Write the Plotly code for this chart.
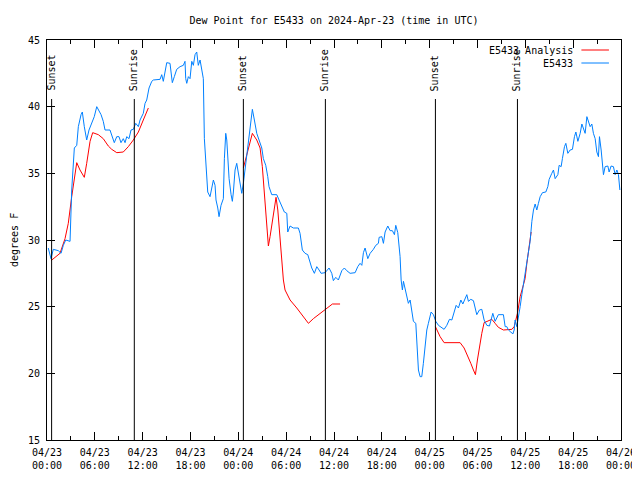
import pandas as pd
import plotly.graph_objects as go

BASE = "2024-04-23 00:00"

# Observations (E5433): hours since 2024-04-23 00:00 UTC, dew point (F)
obs_hours = [0.16, 0.50, 0.79, 1.42, 1.76, 2.05, 2.35, 2.89, 3.10, 3.43, 3.73, 3.93, 4.27, 4.43, 4.68, 4.98,
             5.27, 5.61, 5.93, 6.24, 6.44, 6.78, 7.06, 7.28, 7.90, 8.12, 8.44, 8.75, 9.03, 9.28, 9.57, 9.79,
             10.00, 10.29, 10.54, 10.83, 11.13, 11.46, 11.67, 12.08, 12.30, 12.51, 12.71, 12.80, 13.14, 13.34,
             14.18, 14.39, 14.59, 14.81, 15.02, 15.43, 15.56, 15.72, 15.97, 16.27, 16.69, 17.10, 17.31, 17.40,
             17.53, 17.73, 17.94, 18.16, 18.36, 18.57, 18.78, 18.98, 19.20, 19.41, 19.61, 19.74, 19.91, 20.04,
             20.16, 20.45, 20.66, 20.87, 21.08, 21.20, 21.42, 21.58, 21.83, 22.12, 22.25, 22.42, 22.55, 22.67,
             22.84, 23.09, 23.25, 23.38, 23.59, 23.80, 24.00, 24.22, 24.43, 24.63, 24.84, 25.06, 25.35, 25.60,
             25.76, 26.01, 26.31, 26.60, 26.94, 27.14, 27.44, 27.69, 27.85, 28.19, 28.82, 29.11, 29.45, 29.77,
             30.08, 30.20, 30.49, 30.90, 31.53, 31.74, 32.03, 32.37, 32.71, 33.00, 33.21, 33.54, 33.84, 34.13,
             34.38, 34.88, 35.38, 35.72, 35.92, 36.22, 36.55, 36.98, 37.30, 37.60, 38.02, 38.65, 38.98, 39.27,
             39.49, 39.69, 39.90, 40.24, 40.53, 40.94, 41.24, 41.57, 41.66, 42.00, 42.20, 42.41, 42.75, 43.04,
             43.32, 43.58, 43.75, 44.00, 44.17, 44.29, 44.42, 44.58, 44.71, 44.92, 45.13, 45.33, 45.55, 45.76,
             45.96, 46.26, 46.39, 46.59, 46.80, 47.01, 47.21, 47.43, 47.64, 47.84, 48.18, 48.47, 48.77, 49.10,
             49.52, 49.81, 50.15, 50.48, 50.78, 51.07, 51.32, 51.61, 51.91, 52.16, 52.45, 52.66, 52.86, 53.16,
             53.49, 53.70, 53.91, 54.24, 54.54, 54.83, 55.17, 55.50, 55.67, 55.92, 56.21, 56.62, 57.25, 57.47,
             57.68, 57.88, 58.18, 58.43, 58.60, 58.72, 58.93, 59.13, 59.35, 59.56, 59.85, 60.19, 60.39, 60.60,
             60.82, 61.02, 61.23, 61.44, 61.64, 61.86, 62.15, 62.57, 62.82, 62.99, 63.32, 63.53, 63.74, 64.08,
             64.24, 64.49, 64.65, 64.91, 65.08, 65.33, 65.62, 65.91, 66.16, 66.34, 66.59, 66.88, 67.09, 67.29,
             67.50, 67.72, 67.92, 68.13, 68.34, 68.54, 68.76, 68.97, 69.17, 69.30, 69.51, 69.67, 69.80, 70.01,
             70.35, 70.51, 70.76, 71.05, 71.27, 71.48, 71.68, 71.86]
obs_values = [29.4, 28.6, 29.3, 29.2, 29.0, 29.6, 30.0, 29.9, 33.75, 36.9, 37.1, 38.5, 39.4, 39.6, 38.5, 37.5,
              38.25, 38.75, 39.25, 40.0, 39.75, 39.4, 38.9, 38.25, 38.25, 37.9, 37.3, 37.75, 37.75, 37.3, 37.6, 37.3,
              37.75, 37.6, 38.25, 38.3, 38.75, 38.5, 39.0, 39.5, 40.25, 40.5, 41.25, 41.4, 41.9, 42.0,
              42.05, 42.4, 41.9, 42.6, 43.3, 43.25, 42.5, 41.8, 42.25, 42.8, 43.0, 43.1, 43.4, 42.1,
              41.75, 42.25, 42.1, 43.4, 43.1, 43.9, 44.1, 43.1, 43.5, 42.75, 42.1, 37.6, 35.6, 34.4,
              33.6, 33.25, 34.0, 34.5, 34.1, 33.0, 32.4, 31.75, 32.6, 33.1, 36.1, 38.0, 37.5, 36.25,
              34.6, 33.4, 32.9, 33.6, 35.25, 35.75, 35.0, 34.0, 33.5, 34.25, 35.25, 36.25, 37.5, 39.0,
              39.8, 39.0, 38.0, 37.5, 36.9, 36.1, 35.6, 34.75, 34.0, 33.4, 33.4, 33.0, 32.5, 32.1,
              32.0, 30.6, 31.05, 30.9, 30.9, 30.5, 29.25, 29.0, 28.9, 28.25, 27.9, 27.5, 28.0, 27.75,
              27.5, 27.55, 27.9, 27.5, 26.95, 27.2, 27.0, 27.7, 27.9, 27.7, 27.5, 27.55, 28.0, 28.25,
              28.1, 29.05, 29.4, 28.6, 29.0, 29.3, 29.6, 29.75, 30.2, 30.25, 29.75, 30.6, 31.05, 30.7,
              30.7, 30.4, 31.1, 30.55, 29.75, 28.75, 27.0, 26.25, 26.9, 26.25, 25.6, 25.25, 25.5, 24.6,
              23.9, 23.75, 22.0, 20.25, 19.75, 19.75, 20.75, 22.25, 23.25, 23.75, 24.6, 24.4, 23.9, 23.6,
              23.45, 23.3, 23.6, 24.05, 24.0, 24.5, 25.1, 24.9, 25.5, 25.2, 25.6, 25.9, 25.4, 25.55,
              25.45, 25.0, 24.4, 24.75, 24.8, 24.0, 23.6, 23.55, 23.9, 24.5, 23.9, 24.4, 24.4, 23.5,
              23.5, 23.25, 23.1, 22.95, 23.25, 24.0, 23.5, 24.1, 25.0, 25.9, 27.0, 28.25, 29.25, 29.9,
              31.4, 32.25, 32.7, 32.25, 32.75, 33.25, 33.55, 33.6, 34.0, 34.55, 35.0, 35.25, 34.6, 34.9,
              35.6, 35.5, 36.1, 37.0, 37.25, 36.5, 36.75, 36.8, 37.75, 38.1, 37.4, 38.0, 38.7, 38.4,
              38.0, 39.25, 38.95, 38.5, 38.7, 38.0, 37.6, 36.6, 36.25, 37.75, 36.75, 35.5, 34.9, 35.5,
              35.55, 35.1, 35.55, 35.5, 34.9, 35.25, 34.9, 33.75]

# Analysis (E5433 Analysis): three nightly segments
ana1_hours = [0.50, 1.63, 2.26, 2.67, 3.10, 3.43, 3.73, 4.14, 4.68, 4.98, 5.40, 5.73, 6.44, 7.06, 7.69, 8.12,
              8.75, 9.57, 10.20, 10.83, 11.46, 12.08, 12.71]
ana1_values = [28.45, 29.0, 30.1, 31.25, 33.25, 34.5, 35.8, 35.25, 34.7, 35.75, 37.4, 38.05, 37.9, 37.6, 37.05, 36.8,
               36.55, 36.6, 37.0, 37.5, 38.1, 39.0, 39.9]
ana2_hours = [24.63, 24.84, 25.26, 25.76, 26.31, 26.73, 27.01, 27.35, 27.57, 27.77, 27.98, 28.19, 28.52, 28.73,
              28.95, 29.23, 29.45, 29.65, 29.86, 30.49, 31.33, 32.16, 32.79, 33.41, 34.25, 35.09, 35.80, 36.76]
ana2_values = [35.4, 35.9, 37.0, 38.0, 37.5, 36.9, 35.5, 33.0, 31.0, 29.55, 30.25, 31.1, 32.5, 33.2,
               32.25, 30.0, 28.5, 27.0, 26.25, 25.5, 24.9, 24.25, 23.75, 24.1, 24.5, 24.9, 25.2, 25.2]
ana3_hours = [48.72, 49.31, 49.81, 51.82, 52.32, 52.73, 53.16, 53.49, 53.74, 53.99, 54.24, 54.54, 54.83, 55.37,
              55.80, 56.21, 56.62, 57.25, 57.88, 58.31, 58.60, 59.01, 59.35, 59.69, 59.97, 60.19, 60.73]
ana3_values = [23.5, 22.75, 22.3, 22.3, 21.9, 21.4, 20.75, 20.25, 19.9, 21.0, 22.0, 23.0, 23.8, 23.95,
               24.05, 23.75, 23.45, 23.25, 23.25, 23.3, 23.5, 24.5, 25.75, 26.5, 27.1, 28.25, 30.6]

# Sun events (hours since base)
sun_labels = ["Sunset", "Sunrise", "Sunset", "Sunrise", "Sunset", "Sunrise"]
sun_hours = [0.58, 10.95, 24.63, 34.92, 48.72, 59.01]

# Axis ticks
xtick_hours = [0, 6, 12, 18, 24, 30, 36, 42, 48, 54, 60, 66, 72]
xtick_text = ["04/23<br>00:00", "04/23<br>06:00", "04/23<br>12:00", "04/23<br>18:00",
              "04/24<br>00:00", "04/24<br>06:00", "04/24<br>12:00", "04/24<br>18:00",
              "04/25<br>00:00", "04/25<br>06:00", "04/25<br>12:00", "04/25<br>18:00",
              "04/26<br>00:00"]
ytick_vals = [15, 20, 25, 30, 35, 40, 45]

RED = "#ff0000"
BLUE = "#0080ff"
FONT = "DejaVu Sans Mono"

base = pd.Timestamp(BASE)


def to_t(hours):
    return [base + pd.Timedelta(hours=h) for h in hours]


fig = go.Figure()
ana_x = to_t(ana1_hours) + [None] + to_t(ana2_hours) + [None] + to_t(ana3_hours)
ana_y = ana1_values + [None] + ana2_values + [None] + ana3_values
fig.add_trace(go.Scatter(x=ana_x, y=ana_y, mode="lines", name="E5433 Analysis",
                         line=dict(color=RED, width=1), connectgaps=False))
fig.add_trace(go.Scatter(x=to_t(obs_hours), y=obs_values, mode="lines", name="E5433",
                         line=dict(color=BLUE, width=1)))

# Sun lines and labels
for lab, h in zip(sun_labels, sun_hours):
    t = base + pd.Timedelta(hours=h)
    fig.add_shape(type="line", xref="x", yref="paper", x0=t, x1=t, y0=0, y1=0.8525,
                  line=dict(color="black", width=1))
    fig.add_annotation(x=t, xref="x", y=0.8675, yref="paper", text=lab, textangle=-90,
                       showarrow=False, xanchor="center", yanchor="bottom",
                       font=dict(family=FONT, size=10, color="black"))

# Manual legend (text right-aligned, sample on right, as in the reference)
leg_items = [("E5433 Analysis", RED, 0.975), ("E5433", BLUE, 0.9425)]
for name, col, yy in leg_items:
    fig.add_annotation(x=0.92, xref="paper", y=yy, yref="paper", text=name, showarrow=False,
                       xanchor="right", yanchor="middle", font=dict(family=FONT, size=10, color="black"))
    fig.add_shape(type="line", xref="paper", yref="paper", x0=0.931, x1=0.979, y0=yy, y1=yy,
                  line=dict(color=col, width=1))

# y-axis title
fig.add_annotation(x=0, xref="paper", xshift=-33, y=0.5, yref="paper", text="degrees F",
                   textangle=-90, showarrow=False, xanchor="center", yanchor="middle",
                   font=dict(family=FONT, size=10, color="black"))

fig.update_layout(
    width=640, height=480,
    margin=dict(l=39, r=27, t=32, b=48, autoexpand=False),
    paper_bgcolor="white", plot_bgcolor="white",
    showlegend=False,
    font=dict(family=FONT, size=10, color="black"),
    title=dict(text="Dew Point for E5433 on 2024-Apr-23 (time in UTC)", x=0.5, xref="paper",
               y=1 - 12 / 480, yref="container", yanchor="middle", xanchor="center",
               font=dict(family=FONT, size=10, color="black")),
)
fig.update_xaxes(
    range=[base, base + pd.Timedelta(hours=72)],
    tickvals=to_t(xtick_hours), ticktext=xtick_text,
    ticks="inside", ticklen=8, tickcolor="black", tickwidth=1, ticklabelstandoff=3,
    minor=dict(dtick=3 * 3600000, ticks="inside", ticklen=4, tickcolor="black", tick0=base),
    showline=True, linecolor="black", linewidth=1, mirror="ticks",
    showgrid=False, zeroline=False, automargin=False,
    tickfont=dict(family=FONT, size=10, color="black"),
)
fig.update_yaxes(
    range=[15, 45], tickvals=ytick_vals,
    ticks="inside", ticklen=8, tickcolor="black", tickwidth=1, ticklabelstandoff=4,
    showline=True, linecolor="black", linewidth=1, mirror="ticks",
    showgrid=False, zeroline=False, automargin=False,
    tickfont=dict(family=FONT, size=10, color="black"),
)

fig.write_html("out.html")
